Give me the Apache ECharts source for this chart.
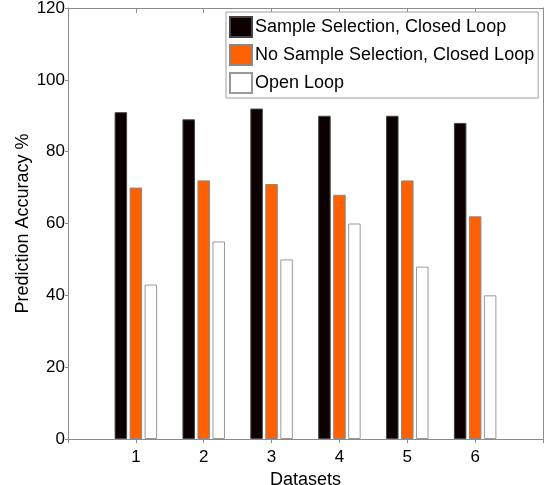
<!DOCTYPE html>
<html>
<head>
<meta charset="utf-8">
<script src="https://cdn.jsdelivr.net/npm/echarts@6/dist/echarts.min.js"></script>
<style>
  html, body { margin: 0; padding: 0; background: #fff; }
  #chart { width: 549px; height: 485px; }
</style>
</head>
<body>
<div id="chart"></div>
<script>
// data
var datasets = [1, 2, 3, 4, 5, 6];
var sampleSelClosed = [91, 89, 92, 90, 90, 88];
var noSampleSelClosed = [70, 72, 71, 68, 72, 62];
var openLoop = [43, 55, 50, 60, 48, 40];
var seriesNames = ['Sample Selection, Closed Loop', 'No Sample Selection, Closed Loop', 'Open Loop'];

function pairs(vals) {
  var out = [];
  for (var i = 0; i < datasets.length; i++) {
    out.push([datasets[i], vals[i]]);
  }
  return out;
}

var myChart = echarts.init(document.getElementById('chart'));
var font = 'Liberation Sans, Arial, Helvetica, sans-serif';
var axisGray = '#8c8c8c';

var option = {
  animation: false,
  backgroundColor: '#fff',
  textStyle: { fontFamily: font },
  grid: { left: 68, right: 6, top: 8, bottom: 46, outerBoundsMode: 'none', containLabel: false },
  legend: {
    orient: 'vertical',
    left: 226,
    top: 12,
    padding: [4, 4, 4, 3],
    itemWidth: 22,
    itemHeight: 20,
    itemGap: 6,
    icon: 'rect',
    backgroundColor: '#fff',
    borderColor: '#a0a0a0',
    borderWidth: 1,
    textStyle: { fontSize: 18, color: '#000', fontFamily: font, padding: [0, 0, 0, -2] },
    data: seriesNames
  },
  xAxis: [{
    type: 'value',
    min: 0,
    max: 7,
    interval: 1,
    name: 'Datasets',
    nameLocation: 'middle',
    nameGap: 30,
    nameTextStyle: { fontSize: 18, color: '#000' },
    axisLine: { onZero: false, lineStyle: { color: axisGray } },
    axisTick: { show: true, length: 4, inside: false, lineStyle: { color: axisGray } },
    axisLabel: {
      fontSize: 17, color: '#000', margin: 10,
      formatter: function (v) { return (v >= 1 && v <= 6) ? String(v) : ''; }
    },
    splitLine: { show: false }
  }, {
    type: 'value',
    position: 'top',
    min: 0,
    max: 7,
    interval: 1,
    axisLine: { show: true, onZero: false, lineStyle: { color: axisGray } },
    axisTick: { show: true, inside: true, length: 5, lineStyle: { color: axisGray } },
    axisLabel: { show: false },
    splitLine: { show: false }
  }],
  yAxis: [{
    type: 'value',
    min: 0,
    max: 120,
    interval: 20,
    name: 'Prediction Accuracy %',
    nameLocation: 'middle',
    nameGap: 36,
    nameMoveOverlap: false,
    nameTextStyle: { fontSize: 18, color: '#000' },
    axisLine: { show: true, onZero: false, lineStyle: { color: axisGray } },
    axisTick: { show: true, length: 3, lineStyle: { color: axisGray } },
    axisLabel: { fontSize: 17, color: '#000', margin: 3 },
    splitLine: { show: false }
  }, {
    type: 'value',
    position: 'right',
    min: 0,
    max: 120,
    interval: 20,
    axisLine: { show: true, onZero: false, lineStyle: { color: axisGray } },
    axisTick: { show: false },
    axisLabel: { show: false },
    splitLine: { show: false }
  }],
  series: [{
    name: seriesNames[0],
    type: 'bar',
    barWidth: 12.5,
    barGap: '20%',
    itemStyle: { color: '#0d0000', borderColor: '#444', borderWidth: 1 },
    data: pairs(sampleSelClosed)
  }, {
    name: seriesNames[1],
    type: 'bar',
    barWidth: 12.5,
    barGap: '20%',
    itemStyle: { color: '#ff6000', borderColor: '#888', borderWidth: 1 },
    data: pairs(noSampleSelClosed)
  }, {
    name: seriesNames[2],
    type: 'bar',
    barWidth: 12.5,
    barGap: '20%',
    itemStyle: { color: '#fff', borderColor: '#999', borderWidth: 1 },
    data: pairs(openLoop)
  }]
};
myChart.setOption(option);
window.onresize = myChart.resize;
</script>
</body>
</html>
